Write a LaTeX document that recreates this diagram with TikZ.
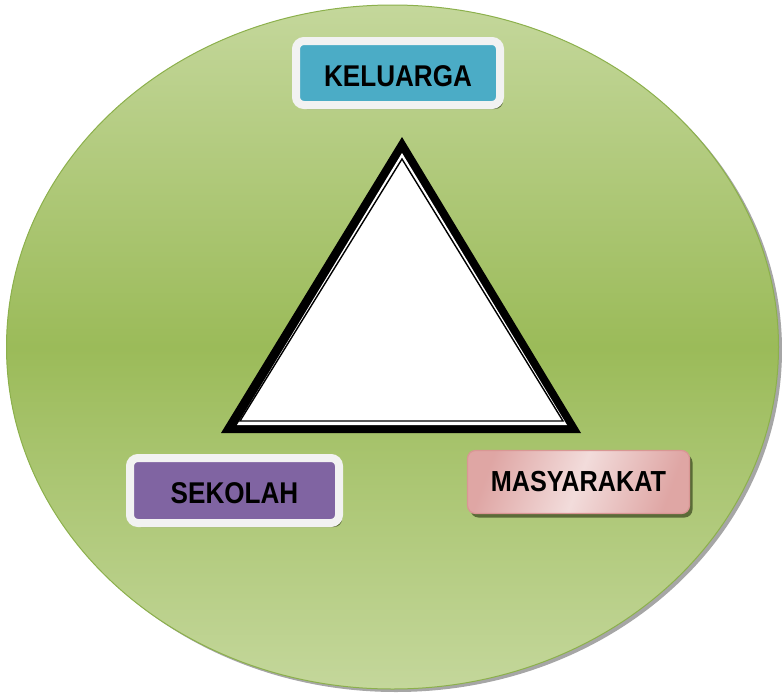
\documentclass[tikz,border=0pt]{standalone}
\usepackage{fontspec}
\usepackage{tikz}
\usetikzlibrary{shadows}
\newfontfamily\lblfont[FakeStretch=0.87]{Liberation Sans Bold}

\definecolor{oliveLight}{RGB}{196,215,155}
\definecolor{oliveDark}{RGB}{155,187,89}
\definecolor{oliveLine}{RGB}{140,176,76}
\definecolor{boxBlue}{RGB}{75,172,198}
\definecolor{boxPurple}{RGB}{128,100,162}
\definecolor{pinkDark}{RGB}{217,150,148}
\definecolor{pinkLight}{RGB}{242,220,219}
\definecolor{boxRim}{RGB}{242,242,242}

\begin{document}
\begin{tikzpicture}[x=1pt,y=1pt,yscale=-1,xscale=1,
    rimbox/.style={draw=boxRim, line width=8pt, rounded corners=8pt,
      minimum width=204pt, minimum height=64pt, inner sep=0pt,
      text height=27pt, text depth=0pt,
      font=\lblfont\fontsize{30}{31}\selectfont,
      drop shadow={shadow xshift=3pt, shadow yshift=-4pt, fill=black!55!oliveDark, opacity=0.8}},
    pinkbox/.style={draw=pinkDark, line width=1.2pt, rounded corners=8pt,
      minimum width=222pt, minimum height=63pt, inner sep=0pt,
      left color=pinkDark!85, right color=pinkDark!85, middle color=pinkLight, shading angle=70,
      font=\lblfont\fontsize{29}{30}\selectfont,
      drop shadow={shadow xshift=3pt, shadow yshift=-4pt, fill=black!55!oliveDark, opacity=0.8}}]
  \useasboundingbox (0,0) rectangle (782,694);
  % circle behind
  \fill [black, opacity=0.35] (396,350) ellipse (386 and 342);
  \draw [oliveLine, line width=1pt, top color=oliveLight, bottom color=oliveLight, middle color=oliveDark]
    (392.5,347) ellipse (386 and 342);
  % triangle
  \fill [black] (402,137) -- (221,433) -- (581,433) -- cycle;
  \fill [white] (402,153) -- (237,425) -- (567,425) -- cycle;
  \draw [black, line width=1.4pt, fill=white] (402,159) -- (240,421) -- (563,421) -- cycle;
  % labels
  \node [rimbox, fill=boxBlue] (keluarga) at (398,73) {KELUARGA};
  \node [rimbox, fill=boxPurple, minimum width=209pt, minimum height=65pt, text height=26pt] (sekolah) at (234.5,490.5) {SEKOLAH};
  \node [pinkbox] (masyarakat) at (578.5,482) {MASYARAKAT};
\end{tikzpicture}
\end{document}
